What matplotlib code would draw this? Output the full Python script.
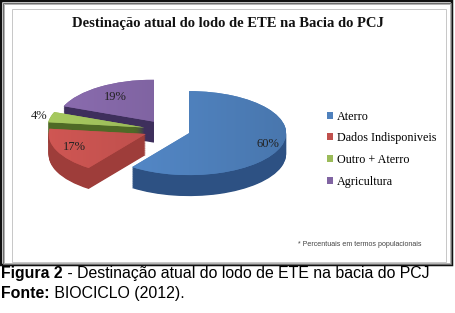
import numpy as np
import matplotlib
matplotlib.use("Agg")
import matplotlib.pyplot as plt
from matplotlib.patches import Rectangle

# dados
categorias = ["Aterro", "Dados Indisponiveis", "Outro + Aterro", "Agricultura"]
valores = [60, 17, 4, 19]
cores_topo = ["#4F81BD", "#C0504D", "#9BBB59", "#8064A2"]
cores_lado = ["#2D5183", "#9E3D3A", "#4F6A26", "#3E2F5C"]
titulo = "Destinação atual do lodo de ETE na Bacia do PCJ"
nota = "* Percentuais em termos populacionais"
legenda_fig = [("Figura 2", " - Destinação atual do lodo de ETE na bacia do PCJ"),
               ("Fonte:", " BIOCICLO (2012).")]

W, H = 455, 313
fig = plt.figure(figsize=(W / 100, H / 100), dpi=100)
fig.patch.set_facecolor("white")

# eixo "em pixels" para moldura e textos
ov = fig.add_axes([0, 0, 1, 1], zorder=0)
ov.set_xlim(0, W)
ov.set_ylim(H, 0)
ov.axis("off")

px = 0.72  # 1 pixel em pontos
ov.add_patch(Rectangle((1.2, 1.2), 451, 264, fill=False, ec="#111111", lw=2.5 * px))
ov.add_patch(Rectangle((3, 3), 447.5, 260.5, fill=False, ec="#6e6e6e", lw=px))
ov.add_patch(Rectangle((4, 4), 445.5, 258.5, fill=False, ec="#b4b4b4", lw=px))
ov.add_patch(Rectangle((11.5, 8.5), 434, 253, fill=False, ec="#c8c8c8", lw=px))

ov.text(228, 23, titulo, ha="center", va="center", fontsize=10.5,
        fontweight="bold", family="Liberation Serif", color="#111111")
ov.text(298, 245, nota, ha="left", va="center", fontsize=5.1,
        family="Liberation Sans", color="#444444")

# legenda da figura (negrito + normal na mesma linha de base)
fs = 11.4
rend = fig.canvas.get_renderer()
for (neg, resto), yb in zip(legenda_fig, [278, 298]):
    t = ov.text(1, yb, neg, ha="left", va="baseline", fontsize=fs,
                fontweight="bold", family="Liberation Sans")
    bb = t.get_window_extent(rend)
    xr = ov.transData.inverted().transform((bb.x1, bb.y0))[0]
    ov.text(xr, yb, resto, ha="left", va="baseline", fontsize=fs,
            family="Liberation Sans")

# pizza "3D": elipse com rx=97px, ry=42px, centro em (167,130)
ax = fig.add_axes([0, 0, 1, 1], zorder=1)
ax.patch.set_alpha(0)
rx, ry, cx, cy = 97, 42, 167, 130
prof = 21 / ry
explode = [0.24] * len(valores)

for d in np.linspace(prof, 0, 30, endpoint=False):
    ax.pie(valores, colors=cores_lado, startangle=90, counterclock=False,
           explode=explode, center=(0, -d), wedgeprops=dict(linewidth=0))

topo, _ = ax.pie(valores, colors=cores_topo, startangle=90, counterclock=False,
                 explode=explode, wedgeprops=dict(linewidth=0))

# leve degrade no topo das fatias
grad = np.linspace(1.08, 0.92, 256)[None, :]
for w, c in zip(topo, cores_topo):
    rgb = np.array(matplotlib.colors.to_rgb(c))
    img = np.clip(grad[..., None] * rgb, 0, 1)
    x0, y0 = w.center
    im = ax.imshow(img, extent=(x0 - 1, x0 + 1, y0 - 1, y0 + 1), aspect="auto",
                   zorder=w.get_zorder() + 0.1, interpolation="bilinear")
    im.set_clip_path(w)

dist_rotulo = [0.85, 0.8, 1.12, 0.7]
for w, v, r in zip(topo, valores, dist_rotulo):
    th = np.radians((w.theta1 + w.theta2) / 2)
    x0, y0 = w.center
    ax.text(x0 + r * np.cos(th), y0 + r * np.sin(th), f"{v}%", ha="center",
            va="center", fontsize=9, family="Liberation Serif", color="#222222",
            zorder=5)

ax.set_aspect("auto")
ax.set_xlim(-cx / rx, (W - cx) / rx)
ax.set_ylim(-(H - cy) / ry, cy / ry)
ax.axis("off")

fig.legend(topo, categorias, loc="center left", bbox_to_anchor=(327 / W, 1 - 149 / H),
           frameon=False, prop=dict(family="Liberation Serif", size=8.7),
           handlelength=0.5, handleheight=0.5, handletextpad=0.3,
           labelspacing=0.8, borderpad=0, borderaxespad=0)

fig.savefig("out.png", dpi=100)
